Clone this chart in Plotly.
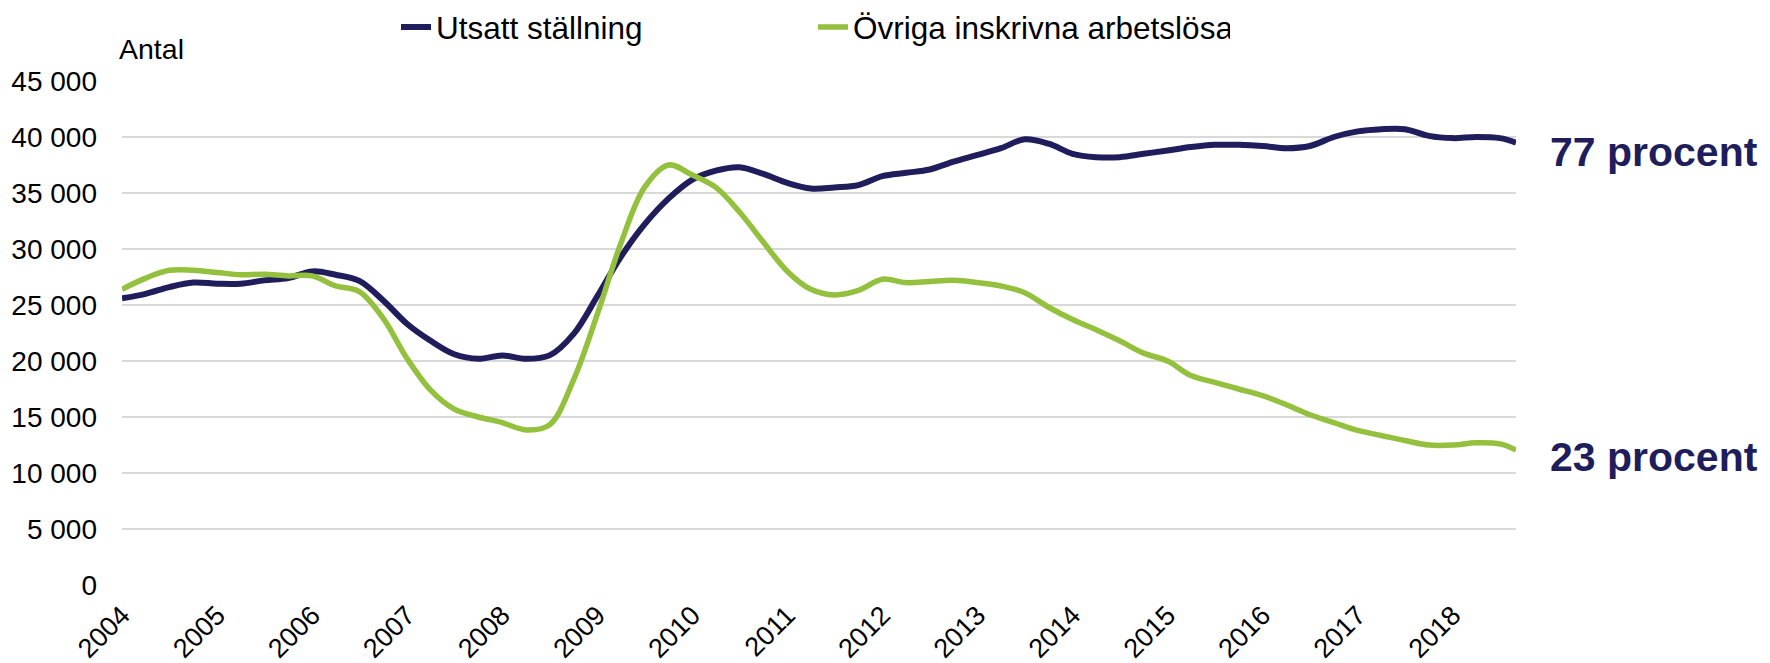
import pandas as pd
import plotly.graph_objects as go

# Quarterly readings (Jan 2004 .. Jul 2018) plus last month Sep 2018
dates = list(pd.date_range("2004-01-01", "2018-07-01", freq="QS").strftime("%Y-%m-%d")) + ["2018-09-01"]

utsatt = [25600, 26000, 26600, 27000,
          26900, 26900, 27200, 27400,
          28000, 27700, 27150, 25400,
          23300, 21800, 20600, 20200,
          20500, 20200, 20500, 22400,
          25800, 29300, 32200, 34500,
          36200, 37000, 37300, 36700,
          35900, 35400, 35500, 35700,
          36500, 36800, 37100, 37800,
          38400, 39000, 39800, 39400,
          38500, 38200, 38200, 38500,
          38800, 39100, 39300, 39300,
          39200, 39000, 39200, 40000,
          40500, 40700, 40700, 40100,
          39900, 40000, 39900, 39500]

ovriga = [26400, 27400, 28100, 28100,
          27900, 27700, 27750, 27600,
          27600, 26700, 26200, 23800,
          20200, 17400, 15700, 15000,
          14500, 13850, 14300, 18300,
          24200, 30500, 35500, 37500,
          36600, 35500, 33300, 30600,
          28000, 26400, 25900, 26300,
          27300, 27000, 27100, 27200,
          27000, 26700, 26100, 24800,
          23700, 22800, 21800, 20700,
          20000, 18700, 18100, 17500,
          16900, 16100, 15200, 14500,
          13800, 13350, 12900, 12500,
          12500, 12700, 12600, 12050]

years = [str(y) for y in range(2004, 2019)]
year_ticks = [f"{y}-01-01" for y in years]
y_ticks = [0, 5000, 10000, 15000, 20000, 25000, 30000, 35000, 40000, 45000]
y_ticktext = ["0", "5 000", "10 000", "15 000", "20 000", "25 000", "30 000", "35 000", "40 000", "45 000"]

series_names = ["Utsatt ställning", "Övriga inskrivna arbetslösa"]
end_labels = ["77 procent", "23 procent"]

NAVY = "#201d5c"
GREEN = "#93c13d"
FONT = "Liberation Sans, Arial, sans-serif"

fig = go.Figure()
fig.add_trace(go.Scatter(x=dates, y=utsatt, name=series_names[0], mode="lines",
                         line=dict(color=NAVY, width=6, shape="spline", smoothing=1.0)))
fig.add_trace(go.Scatter(x=dates, y=ovriga, name=series_names[1], mode="lines",
                         line=dict(color=GREEN, width=5.5, shape="spline", smoothing=1.0)))

fig.update_layout(
    width=1770, height=663,
    margin=dict(l=122, r=254, t=81, b=78),
    paper_bgcolor="white", plot_bgcolor="white",
    font=dict(family=FONT, size=28, color="black"),
    showlegend=True,
    legend=dict(orientation="h", xref="container", yref="container",
                x=396 / 1770, xanchor="left", y=1 - 27 / 663, yanchor="middle",
                font=dict(size=31.5, color="black"), itemwidth=30,
                entrywidth=372, entrywidthmode="pixels",
                bgcolor="rgba(0,0,0,0)"),
    xaxis=dict(type="date", range=[dates[0], dates[-1]], automargin=False,
               tickmode="array", tickvals=year_ticks, ticktext=years,
               tickangle=-45, showgrid=False, zeroline=False, showline=False,
               ticks="", ticklabelstandoff=8, tickfont=dict(size=27)),
    yaxis=dict(range=[0, 45000], automargin=False,
               tickmode="array", tickvals=y_ticks, ticktext=y_ticktext,
               showgrid=True, gridcolor="#d9d9d9", gridwidth=2, zeroline=False,
               showline=False, ticks="", ticklabelstandoff=24, tickfont=dict(size=28)),
)

fig.add_annotation(text="Antal", xref="paper", yref="paper", x=0, y=1,
                   xanchor="left", yanchor="middle", xshift=-5, yshift=32,
                   showarrow=False, font=dict(size=28.5, color="black"))

for vals, lab, ys in [(utsatt, end_labels[0], -9), (ovriga, end_labels[1], -7)]:
    fig.add_annotation(text=f"<b>{lab}</b>", xref="paper", yref="y", x=1, y=vals[-1],
                       xanchor="left", yanchor="middle", xshift=32, yshift=ys,
                       showarrow=False, font=dict(size=41, color=NAVY))

fig.write_html("out.html", config={"displayModeBar": False},
               post_script="document.body.style.margin='0';")
